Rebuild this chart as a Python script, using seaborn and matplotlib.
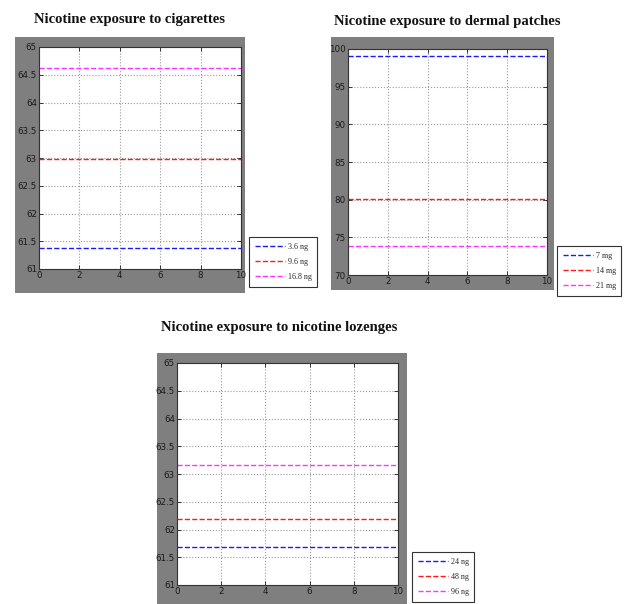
import matplotlib
matplotlib.use("Agg")
import matplotlib.pyplot as plt
from matplotlib.patches import Rectangle
import numpy as np
import pandas as pd
import seaborn as sns

sns.set_theme(style="white")
plt.rcParams["font.family"] = ["DejaVu Sans"]

# time axis shared by all three panels
time = [0, 2, 4, 6, 8, 10]

# steady-state levels (one constant per dose)
cig_doses = ["3.6 ng", "9.6 ng", "16.8 ng"]
cig_levels = [61.38, 62.98, 64.63]

patch_doses = ["7 mg", "14 mg", "21 mg"]
patch_levels = [99.05, 80.05, 73.9]

loz_doses = ["24 ng", "48 ng", "96 ng"]
loz_levels = [61.69, 62.19, 63.17]

colors = ["#1a1aff", "#ff1a1a", "#ff33ff"]
W, H = 627, 604


def px_rect(x0, y0, x1, y1):
    """pixel box (top-left origin) -> figure fraction [l, b, w, h]"""
    return [x0 / W, (H - y1) / H, (x1 - x0) / W, (y1 - y0) / H]


def panel(fig, frame, box, title, title_xy, doses, levels, ylim, yticks, leg_xy):
    # MATLAB-style grey figure frame behind the axes
    fr = px_rect(*frame)
    fig.patches.append(Rectangle((fr[0], fr[1]), fr[2], fr[3], transform=fig.transFigure,
                                 facecolor="#7f7f7f", edgecolor="none", zorder=-10))
    ax = fig.add_axes(px_rect(*box))
    df = pd.DataFrame({
        "time": np.tile(time, len(doses)),
        "level": np.repeat(levels, len(time)),
        "dose": np.repeat(doses, len(time)),
    })
    sns.lineplot(data=df, x="time", y="level", hue="dose", hue_order=doses,
                 palette=colors, linestyle="--", linewidth=1.0, errorbar=None,
                 legend=False, ax=ax)
    ax.set_xlim(0, 10)
    ax.set_ylim(*ylim)
    ax.set_xticks(time)
    ax.set_yticks(yticks)
    ax.set_yticklabels([f"{t:g}" for t in yticks])
    ax.set_xlabel("")
    ax.set_ylabel("")
    ax.set_facecolor("white")
    ax.grid(True, linestyle=":", color="#9a9a9a", linewidth=0.8)
    ax.tick_params(direction="in", length=3, width=0.6, labelsize=6.3, pad=1.5,
                   colors="#1a1a1a", top=True, right=True, bottom=True, left=True)
    for s in ax.spines.values():
        s.set_color("#333333")
        s.set_linewidth(0.8)
    fig.text(title_xy[0] / W, 1 - title_xy[1] / H, title, ha="center", va="center",
             fontsize=10.5, fontweight="bold", family=["Liberation Serif"], color="#111111")
    leg = ax.legend(handles=ax.lines[:3], labels=doses, loc="upper left",
                    bbox_to_anchor=(leg_xy[0] / W, 1 - leg_xy[1] / H),
                    bbox_transform=fig.transFigure, fontsize=5.8, frameon=True,
                    fancybox=False, edgecolor="#333333", framealpha=1,
                    handlelength=3.8, handletextpad=0.3, labelspacing=0.9,
                    borderpad=0.7, borderaxespad=0)
    leg.get_frame().set_linewidth(0.8)
    for t in leg.get_texts():
        t.set_family(["Liberation Serif"])
    return ax


fig = plt.figure(figsize=(6.27, 6.04), dpi=100)

panel(fig, (15, 37, 245, 293), (39, 47, 241, 269),
      "Nicotine exposure to cigarettes", (130, 20),
      cig_doses, cig_levels, (61, 65),
      [61, 61.5, 62, 62.5, 63, 63.5, 64, 64.5, 65], (249, 237))

panel(fig, (331, 37, 554, 290), (348, 49, 547, 275),
      "Nicotine exposure to dermal patches", (447, 22),
      patch_doses, patch_levels, (70, 100),
      [70, 75, 80, 85, 90, 95, 100], (557, 246))

panel(fig, (157, 353, 407, 604), (177, 363, 398, 585),
      "Nicotine exposure to nicotine lozenges", (279, 327),
      loz_doses, loz_levels, (61, 65),
      [61, 61.5, 62, 62.5, 63, 63.5, 64, 64.5, 65], (412, 552))

fig.savefig("out.png", dpi=100)
